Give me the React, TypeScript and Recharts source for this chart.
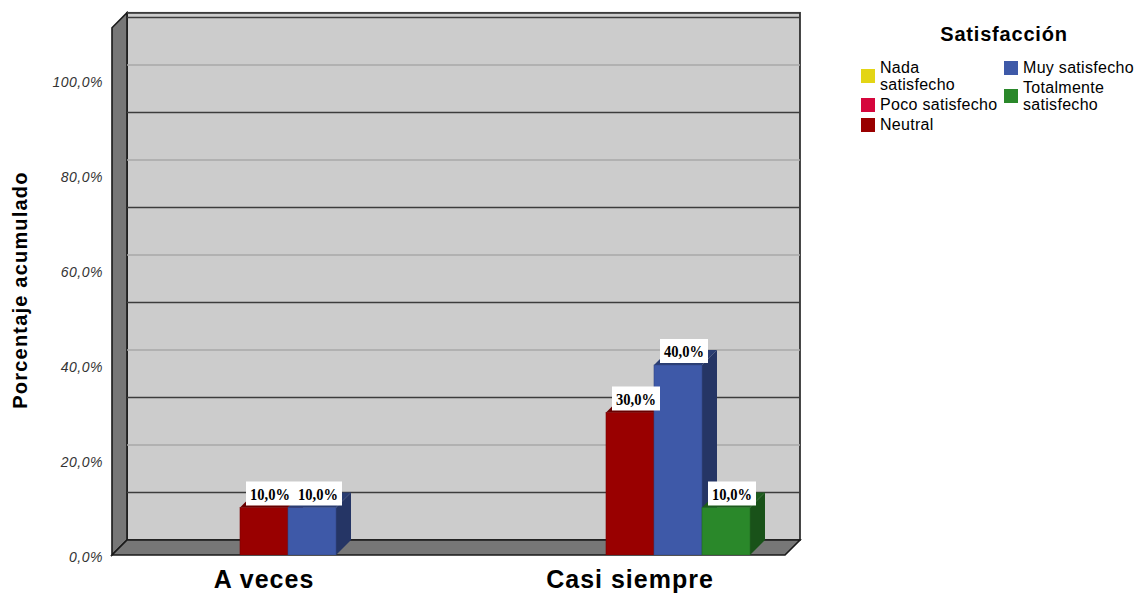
import { BarChart, Bar, XAxis, YAxis, CartesianGrid, Legend, LabelList } from "recharts";

// data
const categories = ["A veces", "Casi siempre"];
const nadaSatisfecho = [null, null];
const pocoSatisfecho = [null, null];
const neutral = [10, 30];
const muySatisfecho = [10, 40];
const totalmenteSatisfecho = [null, 10];
const yTicks = [0, 10, 20, 30, 40, 50, 60, 70, 80, 90, 100, 110];

const SERIES = [
  { key: "nada", name: "Nada satisfecho", color: "#e3d515", values: nadaSatisfecho },
  { key: "poco", name: "Poco satisfecho", color: "#d5063c", values: pocoSatisfecho },
  { key: "neutral", name: "Neutral", color: "#990000", values: neutral },
  { key: "muy", name: "Muy satisfecho", color: "#3e59a8", values: muySatisfecho },
  { key: "total", name: "Totalmente satisfecho", color: "#2a882a", values: totalmenteSatisfecho },
];
const WRAPPED = ["Nada satisfecho", "Totalmente satisfecho"];

const data = categories.map((cat, i) => {
  const row: Record<string, any> = { cat };
  SERIES.forEach((s) => (row[s.key] = s.values[i]));
  return row;
});

// layout
const W = 1140;
const H = 595;
const D = 15; // 3d depth
const FRONT_L = 112;
const FRONT_R = 785;
const FRONT_B = 555;
const Y_MAX = 111;
const PX_PER = 4.75;
const FRONT_T = FRONT_B - Y_MAX * PX_PER;

const SANS = "'Liberation Sans', Arial, sans-serif";

function shade(hex: string, f: number) {
  const n = parseInt(hex.slice(1), 16);
  const r = Math.round(((n >> 16) & 255) * f);
  const g = Math.round(((n >> 8) & 255) * f);
  const b = Math.round((n & 255) * f);
  return `rgb(${r},${g},${b})`;
}

const fmt = (v: number) => v.toFixed(1).replace(".", ",") + "%";

function Bar3D(props: any) {
  const { x, y, width, height, fill, value } = props;
  if (value == null || !height || height <= 0) return null;
  return (
    <g>
      <polygon
        points={`${x},${y} ${x + D},${y - D} ${x + width + D},${y - D} ${x + width},${y}`}
        fill={shade(fill, 0.68)}
      />
      <polygon
        points={`${x + width},${y} ${x + width + D},${y - D} ${x + width + D},${y + height - D} ${x + width},${y + height}`}
        fill={shade(fill, 0.6)}
      />
      <rect x={x} y={y} width={width} height={height} fill={fill} stroke={shade(fill, 0.8)} strokeWidth={0.6} />
    </g>
  );
}

function BarLabel(props: any) {
  const vb = props.viewBox ?? props;
  const { value } = props;
  if (value == null || value === 0) return null;
  const x = vb.x ?? props.x;
  const y = vb.y ?? props.y;
  const width = vb.width ?? props.width;
  const cx = x + width / 2 + 6;
  return (
    <g>
      <rect x={cx - 24} y={y - 26} width={48} height={24} fill="#fff" />
      <text
        x={cx - 20}
        y={y - 8}
        textLength={40}
        lengthAdjust="spacingAndGlyphs"
        fontFamily="'Liberation Serif', serif"
        fontWeight="bold"
        fontSize={17}
        fill="#000"
      >
        {fmt(value)}
      </text>
    </g>
  );
}

function GridLine(props: any) {
  const y = props.y1;
  const v = Math.round((FRONT_B - y) / PX_PER);
  if (v <= 0) return <g key={props.key} />;
  const light = v % 20 === 0;
  return (
    <line
      key={props.key}
      x1={FRONT_L + D}
      x2={FRONT_R + D}
      y1={y - D}
      y2={y - D}
      stroke={light ? "#a8a8a8" : "#3c3c3c"}
      strokeWidth={1.6}
    />
  );
}

function YTick(props: any) {
  const { y, payload } = props;
  if (payload.value % 20 !== 0) return null;
  return (
    <text
      x={103}
      y={y + 6.5}
      textAnchor="end"
      fontFamily={SANS}
      fontStyle="italic"
      fontSize={14}
      letterSpacing={0.5}
      fill="#333"
    >
      {fmt(payload.value)}
    </text>
  );
}

function XTick(props: any) {
  const { x, y, payload } = props;
  return (
    <text
      x={x}
      y={y + 25}
      textAnchor="middle"
      fontFamily={SANS}
      fontWeight="bold"
      fontSize={25}
      letterSpacing={1}
      fill="#000"
    >
      {payload.value}
    </text>
  );
}

function LegendItem({ entry }: { entry: any }) {
  const name: string = entry.value;
  const lines = WRAPPED.includes(name) ? name.split(" ") : [name];
  return (
    <div style={{ display: "flex", alignItems: "center", marginBottom: 3 }}>
      <div
        style={{
          width: 14,
          height: 14,
          background: entry.color,
          marginRight: 5,
          flex: "none",
        }}
      />
      <div style={{ lineHeight: "17px" }}>
        {lines.map((l) => (
          <div key={l}>{l}</div>
        ))}
      </div>
    </div>
  );
}

function renderLegend(props: any) {
  const payload = [...(props.payload ?? [])].sort(
    (a: any, b: any) =>
      SERIES.findIndex((s) => s.name === a.value) - SERIES.findIndex((s) => s.name === b.value)
  );
  const col1 = payload.slice(0, 3);
  const col2 = payload.slice(3);
  return (
    <div style={{ fontFamily: SANS, fontSize: 16, letterSpacing: 0.3, color: "#000" }}>
      <div
        style={{
          textAlign: "center",
          fontWeight: "bold",
          fontSize: 20,
          letterSpacing: 0.8,
          width: 286,
          marginBottom: 13,
        }}
      >
        Satisfacción
      </div>
      <div style={{ display: "flex" }}>
        <div style={{ width: 143 }}>
          {col1.map((e: any) => (
            <LegendItem key={e.value} entry={e} />
          ))}
        </div>
        <div>
          {col2.map((e: any) => (
            <LegendItem key={e.value} entry={e} />
          ))}
        </div>
      </div>
    </div>
  );
}

export default function App() {
  return (
    <div style={{ position: "absolute", left: 0, top: 0, width: W, height: H, background: "#fff" }}>
      <svg width={W} height={H} style={{ position: "absolute", left: 0, top: 0 }}>
        {/* back wall */}
        <rect
          x={FRONT_L + D}
          y={FRONT_T - D}
          width={FRONT_R - FRONT_L}
          height={FRONT_B - FRONT_T}
          fill="#cccccc"
          stroke="#1a1a1a"
          strokeWidth={1.6}
        />
        {/* left wall */}
        <polygon
          points={`${FRONT_L},${FRONT_T} ${FRONT_L + D},${FRONT_T - D} ${FRONT_L + D},${FRONT_B - D} ${FRONT_L},${FRONT_B}`}
          fill="#777777"
          stroke="#1a1a1a"
          strokeWidth={1.6}
        />
        {/* floor */}
        <polygon
          points={`${FRONT_L},${FRONT_B} ${FRONT_L + D},${FRONT_B - D} ${FRONT_R + D},${FRONT_B - D} ${FRONT_R},${FRONT_B}`}
          fill="#777777"
          stroke="#1a1a1a"
          strokeWidth={1.6}
        />
        <text
          transform="rotate(-90)"
          x={-290}
          y={27}
          textAnchor="middle"
          fontFamily={SANS}
          fontWeight="bold"
          fontSize={20}
          letterSpacing={1.2}
          fill="#000"
        >
          Porcentaje acumulado
        </text>
      </svg>
      <div style={{ position: "absolute", left: 0, top: 0 }}>
        <BarChart
          width={W}
          height={H}
          data={data}
          margin={{ top: FRONT_T, right: 327, bottom: 0, left: 21 }}
          barGap={0}
          barSize={48}
        >
          <CartesianGrid vertical={false} horizontal={GridLine} />
          <XAxis dataKey="cat" height={40} axisLine={false} tickLine={false} tick={XTick} interval={0} />
          <YAxis
            width={60}
            domain={[0, Y_MAX]}
            ticks={yTicks}
            axisLine={false}
            tickLine={false}
            tick={YTick}
            allowDataOverflow
          />
          <Legend
            layout="horizontal"
            verticalAlign="middle"
            align="center"
            content={renderLegend}
            wrapperStyle={{ left: 861, top: 23, width: 279 }}
          />
          {SERIES.map((s) => (
            <Bar
              key={s.key}
              dataKey={s.key}
              name={s.name}
              fill={s.color}
              shape={Bar3D}
              isAnimationActive={false}
            >
              <LabelList dataKey={s.key} content={BarLabel} />
            </Bar>
          ))}
        </BarChart>
      </div>
    </div>
  );
}
